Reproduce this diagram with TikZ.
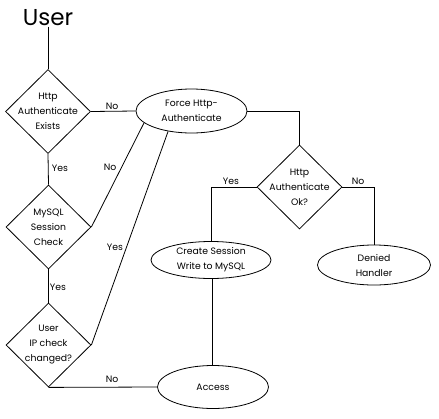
\documentclass[tikz,border=0pt]{standalone}
\usepackage{fontspec}
\setmainfont{Poppins}
\usetikzlibrary{shapes.geometric}
\begin{document}
\begin{tikzpicture}[x=1pt,y=-1pt, line width=0.8pt,
  dia/.style={draw, diamond, minimum width=85pt, minimum height=84pt, inner sep=0pt},
  ell/.style={draw, ellipse, inner sep=0pt, align=center, font=\fontsize{9.3}{15}\selectfont},
  txt/.style={align=center, inner sep=0pt, font=\fontsize{9.3}{15}\selectfont},
  lab/.style={inner sep=0pt, font=\fontsize{9.3}{11}\selectfont}]
\useasboundingbox (0,0) rectangle (439,418);
\node[inner sep=0pt, font=\fontsize{23}{26}\selectfont] (user) at (48,18) {User};
\node[dia] (d1) at (48,111.5) {};
\node[txt] (d1t) at (d1.center) {Http\\Authenticate\\Exists};
\node[dia] (d2) at (48.5,227) {};
\node[txt] (d2t) at (d2.center) {MySQL\\Session\\Check};
\node[dia] (d3) at (48.5,345) {};
\node[txt] (d3t) at (d3.center) {User\\IP check\\changed?};
\node[ell, minimum width=111pt, minimum height=44pt] (force) at (191.5,111) {Force Http-\\Authenticate};
\node[dia] (ok) at (299.5,187) {};
\node[txt] (okt) at (ok.center) {Http\\Authenticate\\Ok?};
\node[ell, minimum width=120pt, minimum height=37pt] (create) at (211,260) {Create Session\\Write to MySQL};
\node[ell, minimum width=113pt, minimum height=40pt] (denied) at (374,265) {Denied\\Handler};
\node[ell, minimum width=111pt, minimum height=43pt] (access) at (213,387) {Access};
% connectors
\draw (user.south) -- (d1.north);
\draw (d1.east) -- (force.west);
\draw (d1.south) -- (d2.north);
\draw (d2.south) -- (d3.north);
\draw (d2.east) -- (force.194);
\draw (d3.east) -- (force.221);
\draw (d3.south) -- (access.west);
\draw (force.east) -| (ok.north);
\draw (ok.west) -| (create.north);
\draw (ok.east) -| (denied.north);
\draw ([xshift=1.5pt]create.south) -- ([xshift=-0.5pt]access.north);
% labels
\node[lab] (l1) at (112,106) {No};
\node[lab] (l2) at (60,168) {Yes};
\node[lab] (l3) at (110,167) {No};
\node[lab] (l4) at (58,287) {Yes};
\node[lab] (l5) at (115,247) {Yes};
\node[lab] (l6) at (112,379) {No};
\node[lab] (l7) at (231,181) {Yes};
\node[lab] (l8) at (358,181) {No};
\end{tikzpicture}
\end{document}
